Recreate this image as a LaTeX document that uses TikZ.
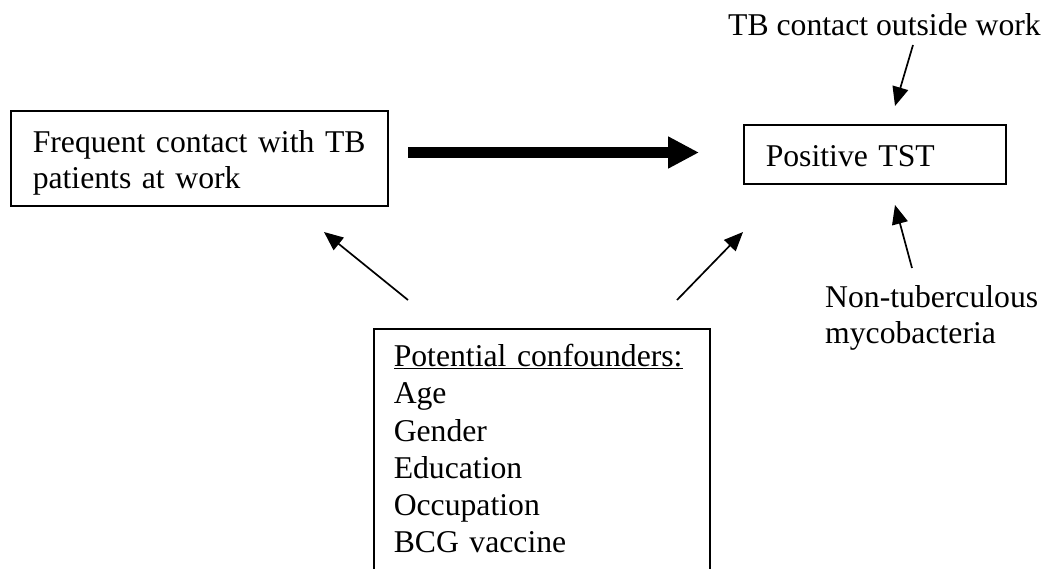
\documentclass[tikz,border=0pt]{standalone}
\usepackage{fontspec}
\setmainfont{Liberation Serif}
\usetikzlibrary{arrows.meta}
\begin{document}
\begin{tikzpicture}[x=1pt,y=-1pt,
  txt/.style={font=\fontsize{31.7}{36}\selectfont, inner sep=0pt},
  boxnode/.style={draw, line width=1.5pt, anchor=north west, inner ysep=0pt,
    font=\fontsize{31.7}{36}\selectfont, align=left},
  thinarrow/.style={line width=1.7pt, -{Triangle[length=19pt,width=16pt]}},
  thickarrow/.style={line width=11pt, -{Triangle[length=31pt,width=30pt]}}]
\useasboundingbox (0,0) rectangle (1047,568);
\clip (0,0) rectangle (1047,568);
\fill[white] (0,0) rectangle (1047,568);

% boxes
\node[boxnode, inner xsep=22pt, text width=333pt, text height=42pt, text depth=53pt]
  (expo) at (10,110) {Frequent contact with TB\\patients at work};
\node[boxnode, inner xsep=22pt, text width=218pt, text height=42pt, text depth=17pt]
  (tst) at (743,124) {Positive TST};
\node[boxnode, inner xsep=20pt, text width=296pt, text height=38pt, text depth=224pt,
  font=\fontsize{31.7}{37.2}\selectfont]
  (conf) at (373,328) {\underline{Potential confounders:}\\Age\\Gender\\Education\\Occupation\\BCG vaccine};

% free labels
\node[txt, anchor=base west] (outside) at (728,35) {TB contact outside work};
\node[txt, anchor=base west, text width=220pt, align=left] (ntm) at (825,307) {Non-tuberculous\\mycobacteria};

% arrow end points
\coordinate (a1s) at (408,152.5);
\coordinate (a1e) at (699,152.5);
\coordinate (a2s) at (913,45);
\coordinate (a2e) at (895,106);
\coordinate (a3s) at (912,268);
\coordinate (a3e) at (895,205);
\coordinate (a4s) at (408,300);
\coordinate (a4e) at (324,232);
\coordinate (a5s) at (677,300);
\coordinate (a5e) at (743,232);

\draw[thickarrow] (a1s) -- (a1e);
\draw[thinarrow] (a2s) -- (a2e);
\draw[thinarrow] (a3s) -- (a3e);
\draw[thinarrow] (a4s) -- (a4e);
\draw[thinarrow] (a5s) -- (a5e);
\end{tikzpicture}
\end{document}
